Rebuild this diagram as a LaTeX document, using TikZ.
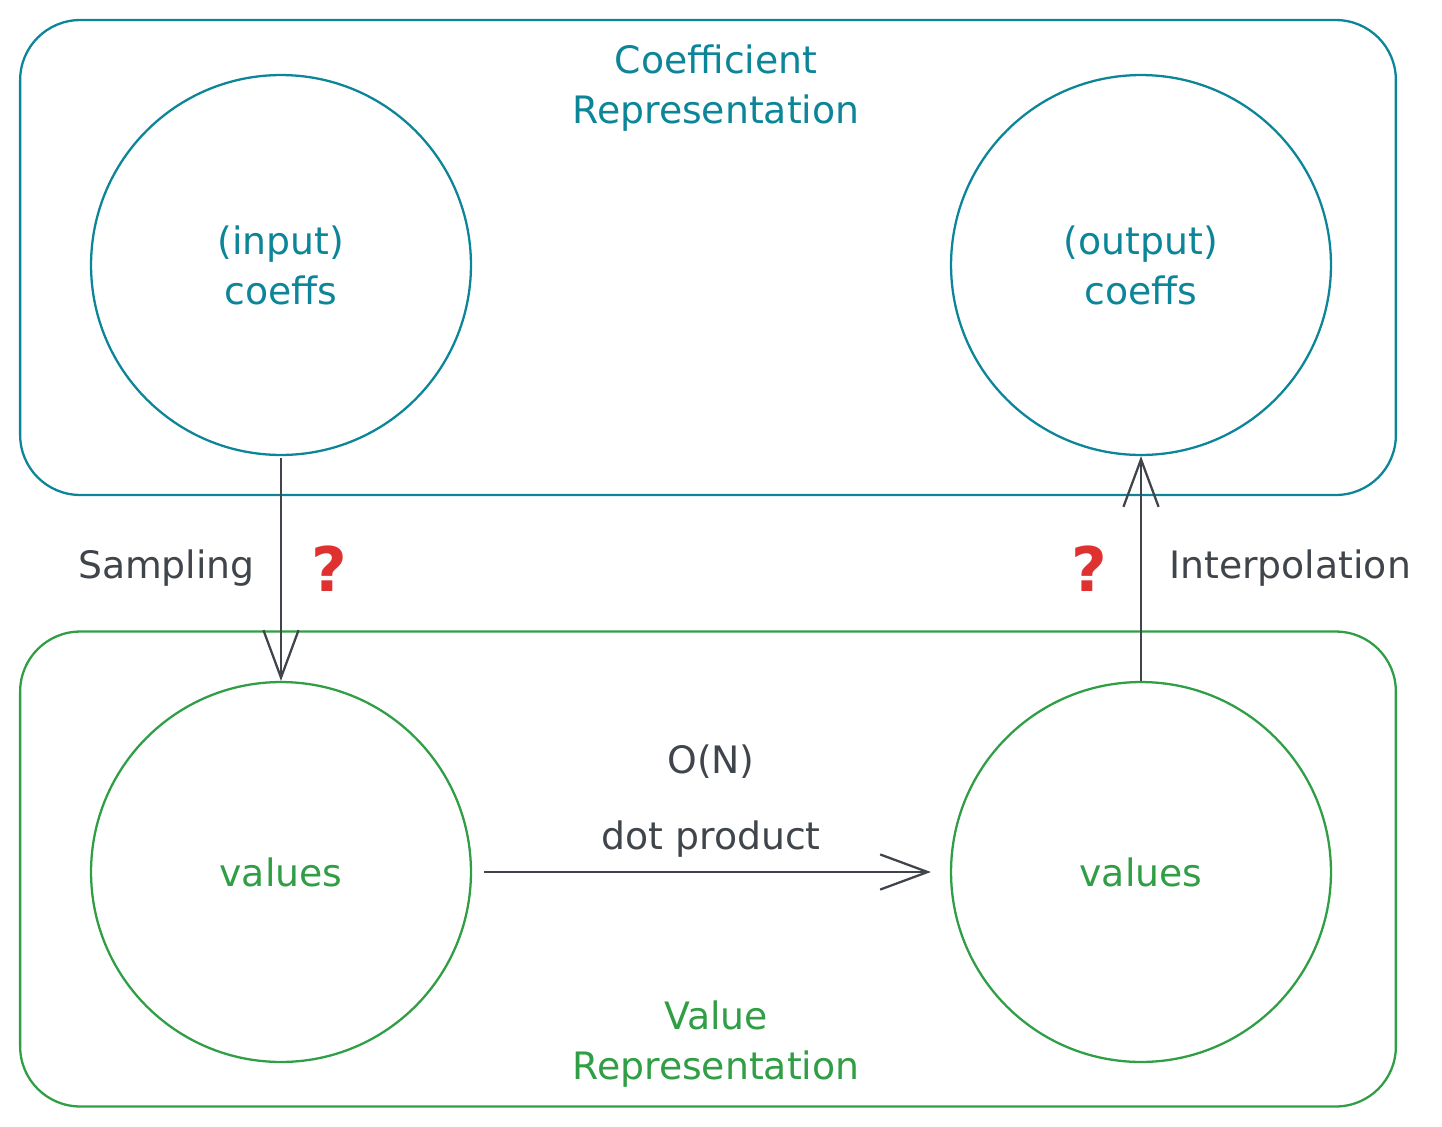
\documentclass[tikz,border=0pt]{standalone}
\usepackage{fontspec}
\setsansfont{DejaVu Sans}
\usetikzlibrary{arrows.meta,positioning}
\definecolor{coefcol}{HTML}{0C8599}
\definecolor{valcol}{HTML}{2F9E44}
\definecolor{inkcol}{HTML}{40454B}
\definecolor{askcol}{HTML}{E03131}

\begin{document}
\begin{tikzpicture}[x=0.02cm,y=-0.02cm,>={Straight Barb[length=27pt,width=20pt]},
                    line width=1.3pt,line join=round,
                    every node/.style={font=\sffamily\fontsize{21.5}{28.5}\selectfont,inner sep=0pt},
                    main node/.style={circle,draw,minimum size=7.6cm,align=center},
                    rep box/.style={draw,rounded corners=1.2cm,minimum width=27.52cm,minimum height=9.5cm},
                    ask/.style={text=askcol,font=\sffamily\bfseries\fontsize{35}{40}\selectfont}]
  \useasboundingbox (0,0) rectangle (1442,1126);
  % the two representations
  \node[rep box,draw=coefcol] (coef) at (708,257.5) {};
  \node[rep box,draw=valcol] (val) at (708,869) {};
  \node[text=coefcol,align=center] (coeftitle) at (716,88) {Coefficient\\Representation};
  \node[text=valcol,align=center] (valtitle) at (716,1044) {Value\\Representation};
  \node[main node,draw=coefcol,text=coefcol] (in) at (281,265) {(input)\\coeffs};
  \node[main node,draw=coefcol,text=coefcol] (out) at (1141,265) {(output)\\coeffs};
  \node[main node,draw=valcol,text=valcol] (v1) at (281,872) {values};
  \node[main node,draw=valcol,text=valcol] (v2) at (1141,872) {values};
  % conversions
  \draw[->,inkcol,shorten <=0.04cm] (in) -- node[left=0.5cm] (samp) {Sampling}
                                        node[right=0.58cm,ask] (q1) {?} (v1);
  \draw[->,inkcol] (v2) -- node[right=0.54cm] (interp) {Interpolation}
                           node[left=0.66cm,ask] (q2) {?} (out);
  \draw[->,inkcol,shorten <=0.24cm,shorten >=0.38cm] (v1) -- node[above=0.28cm] (dot) {dot product} (v2);
  \node[inkcol,above=0.8cm of dot] (cost) {O(N)};
\end{tikzpicture}
\end{document}
